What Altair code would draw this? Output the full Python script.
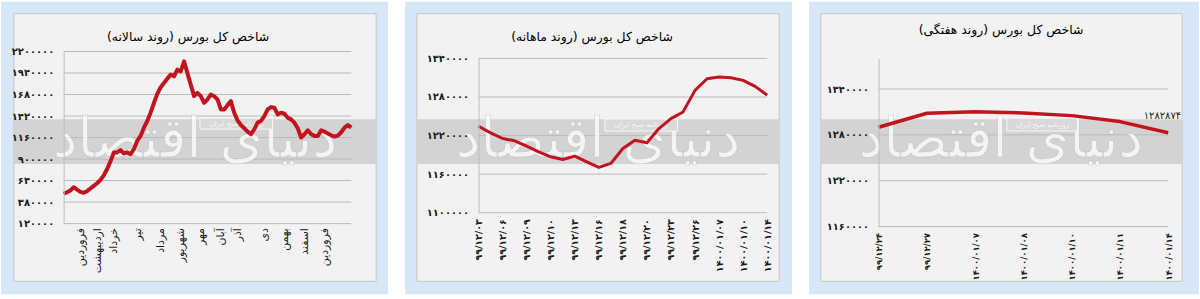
import json
import altair as alt
import pandas as pd

FA = str.maketrans('0123456789', '۰۱۲۳۴۵۶۷۸۹')


def fa(x):
    return str(x).translate(FA)


# ---------------- Panel 1: yearly trend ----------------
yearly_values = [
    480000, 500000, 520000, 560000, 532000, 504000, 492000, 512000, 544000, 576000,
    608000, 648000, 704000, 780000, 872000, 980000, 980000, 1008000, 968000, 980000,
    960000, 1020000, 1120000, 1180000, 1280000, 1360000, 1460000, 1580000, 1688000, 1768000,
    1820000, 1872000, 1920000, 1900000, 1980000, 1960000, 2080000, 1940000, 1800000, 1660000,
    1700000, 1660000, 1580000,
    1620000, 1680000, 1660000, 1620000, 1500000, 1500000, 1552000, 1600000, 1460000, 1368000,
    1312000, 1272000, 1232000, 1200000, 1260000, 1340000, 1360000, 1420000, 1500000, 1528000,
    1520000, 1440000, 1460000, 1448000, 1400000, 1380000, 1340000, 1272000, 1160000, 1200000,
    1248000, 1200000, 1180000, 1180000, 1248000, 1232000, 1208000, 1188000, 1172000, 1184000,
    1224000, 1280000, 1312000, 1280000,
]
month_labels = ["فروردین", "اردیبهشت", "خرداد", "تیر", "مرداد", "شهریور", "مهر",
                "آبان", "آذر", "دی", "بهمن", "اسفند", "فروردین"]
month_index = [5, 10, 15, 22, 29, 35, 41, 47, 52, 60, 66, 72, 78]
yearly_ticks = [120000, 380000, 640000, 900000, 1160000, 1420000, 1680000, 1940000, 2200000]
yearly_title = "شاخص کل بورس (روند سالانه)\u200f"

# ---------------- Panel 2: monthly trend ----------------
monthly_values = [
    1234500, 1224200, 1215400, 1211800, 1203500, 1194700, 1186900, 1182800, 1188000,
    1179200, 1170400, 1176600, 1199900, 1212800, 1208700, 1230900, 1246400, 1256700,
    1290300, 1308400, 1311000, 1310000, 1305900, 1296500, 1282874,
]
monthly_dates = ["۹۹/۱۲/۰۳", "۹۹/۱۲/۰۶", "۹۹/۱۲/۰۹", "۹۹/۱۲/۱۰", "۹۹/۱۲/۱۳", "۹۹/۱۲/۱۶",
                 "۹۹/۱۲/۱۸", "۹۹/۱۲/۲۰", "۹۹/۱۲/۲۳", "۹۹/۱۲/۲۶", "۱۴۰۰/۰۱/۰۷",
                 "۱۴۰۰/۰۱/۱۰", "۱۴۰۰/۰۱/۱۴"]
monthly_label_index = [0, 2, 4, 6, 8, 10, 12, 14, 16, 18, 20, 22, 24]
monthly_ticks = [1100000, 1160000, 1220000, 1280000, 1340000]
monthly_title = "شاخص کل بورس (روند ماهانه)\u200f"

# ---------------- Panel 3: weekly trend ----------------
weekly_dates = ["۹۹/۱۲/۲۴", "۹۹/۱۲/۲۷", "۱۴۰۰/۰۱/۰۷", "۱۴۰۰/۰۱/۰۸", "۱۴۰۰/۰۱/۱۰",
                "۱۴۰۰/۰۱/۱۱", "۱۴۰۰/۰۱/۱۴"]
weekly_values = [1290000, 1308300, 1310400, 1308700, 1305200, 1297400, 1282874]
weekly_ticks = [1160000, 1220000, 1280000, 1340000]
weekly_title = "شاخص کل بورس (روند هفتگی)\u200f"

watermark = "دنیای اقتصاد"
stamp_text = "روزنامه صبح ایران"

RED = "#c1141c"
BLUE = "#d7e7f7"
INNER = "#f2f2f2"
BAND = "#d3d3d3"
GRID = "#bababa"
FONT = "DejaVu Sans"


def ylabel_expr(ticks):
    return "%s[indexof(%s, datum.value)]" % (
        json.dumps([fa(t) for t in ticks], ensure_ascii=False), json.dumps(ticks))


def y_axis(ticks):
    return alt.Axis(values=ticks, labelExpr=ylabel_expr(ticks), grid=False, ticks=False,
                    domain=True, domainColor="#bdbdbd", labelPadding=10, zindex=1,
                    title=None, labelFont=FONT, labelFontSize=10, labelColor="#1a1a1a",
                    labelFontWeight="bold", labelOverlap=False, orient="left")


def decorations(W, blue, inner, band, title, title_pos, wm_pos, stamp, ticks, yscale):
    one = pd.DataFrame({"k": [0]})
    base = alt.Chart(one)

    def box(x1, x2, y1, y2, **kw):
        return base.mark_rect(**kw).encode(x=alt.value(x1), x2=alt.value(x2),
                                           y=alt.value(y1), y2=alt.value(y2))

    layers = [
        box(*blue, color=BLUE),
        box(*inner, fill=INNER, stroke="#c6c6c6", strokeWidth=1),
        box(inner[0], inner[1], band[0], band[1], color=BAND),
        alt.Chart(pd.DataFrame({"g": ticks})).mark_rule(color=GRID, strokeWidth=1).encode(
            y=alt.Y("g:Q", scale=yscale, axis=None), x=alt.value(0), x2=alt.value(W)),
        base.mark_text(text=watermark, font=FONT, fontSize=56, fill="white",
                       stroke="#bdbdbd", strokeWidth=0.5, opacity=0.75,
                       align="center", baseline="middle").encode(
            x=alt.value(wm_pos[0]), y=alt.value(wm_pos[1])),
        box(stamp[0], stamp[1], stamp[2], stamp[3], fill="#d9d9d9", stroke="#f7f7f7",
            strokeWidth=1),
        base.mark_text(text=stamp_text, font=FONT, fontSize=7, fill="#f7f7f7",
                       align="center", baseline="middle").encode(
            x=alt.value((stamp[0] + stamp[1]) / 2), y=alt.value((stamp[2] + stamp[3]) / 2)),
        base.mark_text(text=title, font=FONT, fontSize=12.5, fill="#000000",
                       align="center", baseline="middle").encode(
            x=alt.value(title_pos[0]), y=alt.value(title_pos[1])),
    ]
    return layers


# ---- panel 1 ----
W1, H1 = 289, 166
ys1 = alt.Scale(domain=[120000, 2200000], range=[166, -7], nice=False, zero=False)
df1 = pd.DataFrame({"i": list(range(len(yearly_values))), "v": yearly_values})
month_expr = "%s[indexof(%s, datum.value)]" % (
    json.dumps(month_labels, ensure_ascii=False), json.dumps(month_index))
line1 = alt.Chart(df1).mark_line(color=RED, strokeWidth=4, strokeJoin="round").encode(
    x=alt.X("i:Q", scale=alt.Scale(domain=[0, len(yearly_values) - 1], nice=False, zero=False),
            axis=alt.Axis(values=month_index, labelExpr=month_expr, labelAngle=270,
                          grid=False, ticks=False, domain=False, labelPadding=4, zindex=1,
                          title=None, labelFont=FONT, labelFontSize=11, labelColor="#1a1a1a",
                          labelOverlap=False, labelFlush=False)),
    y=alt.Y("v:Q", scale=ys1, axis=y_axis(yearly_ticks)),
)
p1 = alt.layer(*decorations(W1, (-63, 326, -57, 237), (-50, 314, -45, 224), (61, 106),
                            yearly_title, (125, -22), (132, 82), (137, 210, 60, 71),
                            yearly_ticks, ys1), line1).resolve_axis(
    y="independent").properties(width=W1, height=H1)

# ---- panel 2 ----
W2, H2 = 290, 155
ys2 = alt.Scale(domain=[1100000, 1340000], nice=False, zero=False)
df2 = pd.DataFrame({"i": list(range(len(monthly_values))), "v": monthly_values})
mdate_expr = "%s[indexof(%s, datum.value)]" % (
    json.dumps(monthly_dates, ensure_ascii=False), json.dumps(monthly_label_index))
line2 = alt.Chart(df2).mark_line(color=RED, strokeWidth=3, strokeJoin="round").encode(
    x=alt.X("i:Q", scale=alt.Scale(domain=[0, len(monthly_values) - 1], nice=False, zero=False),
            axis=alt.Axis(values=monthly_label_index, labelExpr=mdate_expr, labelAngle=270,
                          grid=False, ticks=False, domain=False, labelPadding=6, zindex=1,
                          title=None, labelFont=FONT, labelFontSize=9.5, labelColor="#1a1a1a",
                          labelFontWeight="bold", labelOverlap=False, labelFlush=False)),
    y=alt.Y("v:Q", scale=ys2, axis=y_axis(monthly_ticks)),
)
p2 = alt.layer(*decorations(W2, (-74, 315, -57, 237), (-62, 302, -45, 224), (61, 106),
                            monthly_title, (114, -22), (120, 82), (127, 200, 61, 73),
                            monthly_ticks, ys2), line2).resolve_axis(
    y="independent").properties(width=W2, height=H2)

# ---- panel 3 ----
W3, H3 = 291, 169
ys3 = alt.Scale(domain=[1160000, 1380000], nice=False, zero=False)
df3 = pd.DataFrame({"d": weekly_dates, "v": weekly_values})
df3_last = pd.DataFrame({"d": [weekly_dates[-1]], "v": [weekly_values[-1]],
                         "lbl": [fa(weekly_values[-1])]})
xs3 = alt.X("d:O", sort=weekly_dates, scale=alt.Scale(type="point", padding=0),
            axis=alt.Axis(labelAngle=270, grid=False, ticks=False, domain=False,
                          labelPadding=6, zindex=1, title=None, labelFont=FONT,
                          labelFontSize=8.5, labelColor="#1a1a1a", labelFontWeight="bold",
                          labelOverlap=False))
line3 = alt.Chart(df3).mark_line(color=RED, strokeWidth=3.5, strokeJoin="round").encode(
    x=xs3, y=alt.Y("v:Q", scale=ys3, axis=y_axis(weekly_ticks)))
ann3 = alt.Chart(df3_last).mark_text(font=FONT, fontSize=10, fill="#222222", align="right",
                                     baseline="middle", dx=13, dy=-17).encode(
    x=alt.X("d:O", sort=weekly_dates), y=alt.Y("v:Q", axis=None), text="lbl:N")
p3 = alt.layer(*decorations(W3, (-70, 322, -57, 237), (-58, 305, -45, 224), (61, 106),
                            weekly_title, (123, -29), (123, 82), (129, 200, 60, 73),
                            weekly_ticks, ys3), line3, ann3).resolve_axis(
    y="independent").properties(width=W3, height=H3)

chart = alt.hconcat(p1, p2, p3, spacing=15).properties(padding=0).configure(
    background="white", font=FONT).configure_view(stroke="transparent")

chart.save("out.html", embed_options={"renderer": "svg", "actions": False})
